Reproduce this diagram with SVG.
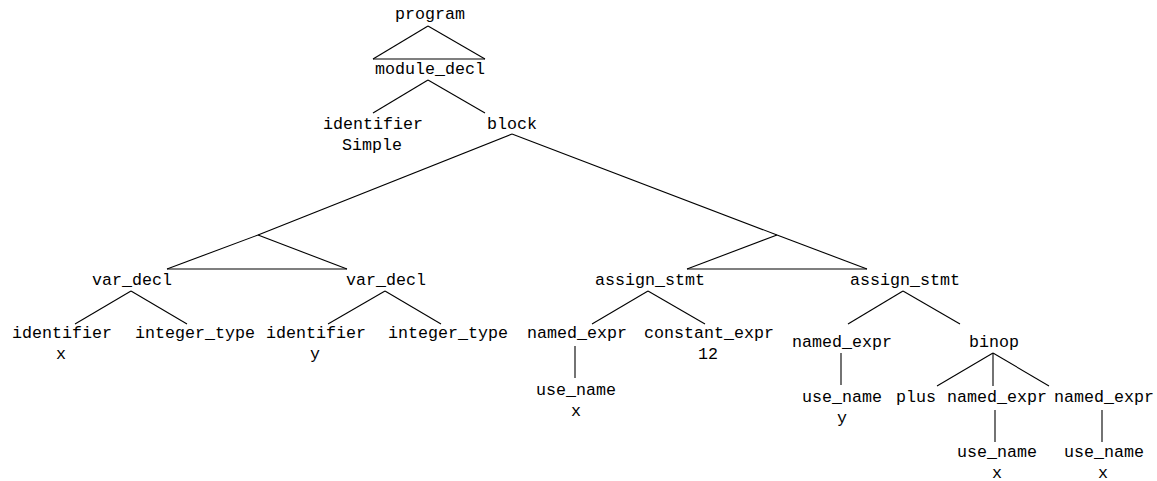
<svg xmlns="http://www.w3.org/2000/svg" width="1157" height="481" viewBox="0 0 1157 481">
<style>
text{font-family:"Liberation Mono","Courier New",monospace;font-size:16.67px;fill:#000;text-anchor:middle}
.e line{stroke:#000;stroke-width:1.1;fill:none}
</style>
<rect width="1157" height="481" fill="#fff"/>
<g class="e" id="connectors">
<line x1="428" y1="26" x2="373" y2="59"/><line x1="428" y1="26" x2="485" y2="59"/><line x1="373" y1="59" x2="485" y2="59"/>
<line x1="428" y1="80" x2="373" y2="113"/><line x1="428" y1="80" x2="485" y2="113"/>
<line x1="512" y1="134" x2="258" y2="235"/><line x1="512" y1="134" x2="777" y2="235"/>
<line x1="258" y1="235" x2="167" y2="269"/><line x1="258" y1="235" x2="347" y2="269"/><line x1="167" y1="269" x2="347" y2="269"/>
<line x1="777" y1="235" x2="687" y2="269"/><line x1="777" y1="235" x2="867" y2="269"/><line x1="687" y1="269" x2="867" y2="269"/>
<line x1="131" y1="291" x2="75" y2="324"/><line x1="131" y1="291" x2="187" y2="324"/>
<line x1="385" y1="291" x2="328" y2="324"/><line x1="385" y1="291" x2="441" y2="324"/>
<line x1="648" y1="291" x2="592" y2="324"/><line x1="648" y1="291" x2="705" y2="324"/>
<line x1="575" y1="346" x2="575" y2="378"/>
<line x1="903" y1="291" x2="848" y2="324"/><line x1="903" y1="291" x2="960" y2="324"/>
<line x1="841" y1="353" x2="841" y2="385"/>
<line x1="993" y1="353" x2="937" y2="386"/><line x1="993" y1="353" x2="993" y2="386"/><line x1="993" y1="353" x2="1049" y2="386"/>
<line x1="995" y1="410" x2="995" y2="442"/>
<line x1="1102" y1="410" x2="1102" y2="442"/>
</g>
<g id="n-program"><text x="430" y="19">program</text></g>
<g id="n-module_decl"><text x="430" y="74">module_decl</text></g>
<g id="n-identifier-simple"><text x="373" y="129">identifier</text><text x="372" y="150">Simple</text></g>
<g id="n-block"><text x="512" y="129">block</text></g>
<g id="n-var_decl-1"><text x="132" y="285">var_decl</text></g>
<g id="n-var_decl-2"><text x="386" y="285">var_decl</text></g>
<g id="n-assign_stmt-1"><text x="650" y="285">assign_stmt</text></g>
<g id="n-assign_stmt-2"><text x="905" y="285">assign_stmt</text></g>
<g id="n-identifier-x"><text x="62" y="338">identifier</text><text x="61" y="359">x</text></g>
<g id="n-integer_type-1"><text x="195" y="338">integer_type</text></g>
<g id="n-identifier-y"><text x="316" y="338">identifier</text><text x="315" y="359">y</text></g>
<g id="n-integer_type-2"><text x="448" y="338">integer_type</text></g>
<g id="n-named_expr-1"><text x="577" y="338">named_expr</text></g>
<g id="n-use_name-1"><text x="576" y="395">use_name</text><text x="576" y="416">x</text></g>
<g id="n-constant_expr"><text x="709" y="338">constant_expr</text><text x="708" y="359">12</text></g>
<g id="n-named_expr-2"><text x="842" y="347">named_expr</text></g>
<g id="n-use_name-2"><text x="842" y="402">use_name</text><text x="842" y="423">y</text></g>
<g id="n-binop"><text x="994" y="347">binop</text></g>
<g id="n-plus"><text x="916" y="402">plus</text></g>
<g id="n-named_expr-3"><text x="997" y="402">named_expr</text></g>
<g id="n-use_name-3"><text x="997" y="457">use_name</text><text x="997" y="478">x</text></g>
<g id="n-named_expr-4"><text x="1104" y="402">named_expr</text></g>
<g id="n-use_name-4"><text x="1104" y="457">use_name</text><text x="1103" y="478">x</text></g>
</svg>
